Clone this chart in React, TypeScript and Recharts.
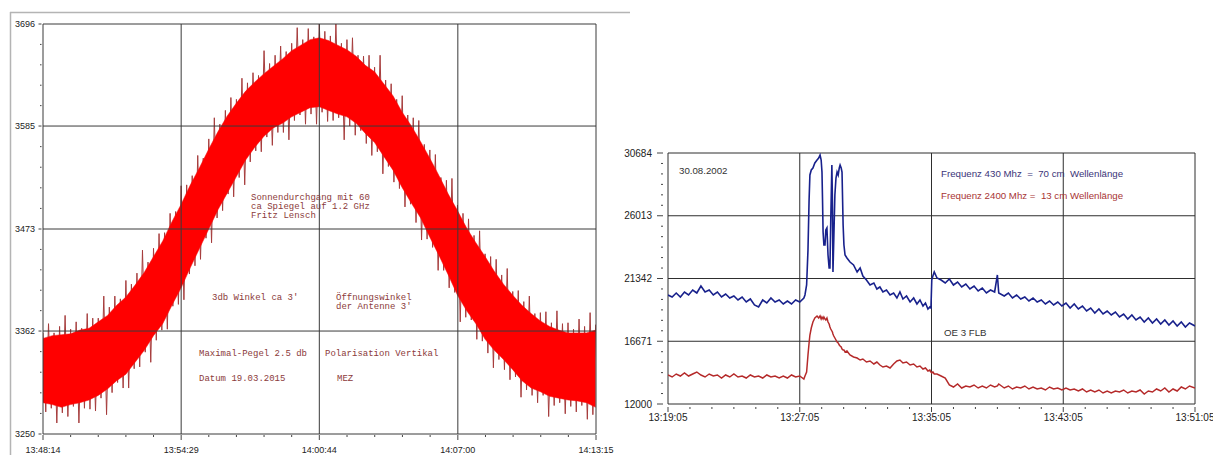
import { ComposedChart, LineChart, Area, Line, XAxis, YAxis, ReferenceLine } from 'recharts';

// Sonnendurchgang 19.03.2015 (seconds after 13:48:14)
// solid red core of the band
const sunTime = [
  0, 25, 50, 75, 100, 125, 150, 175, 200, 225, 250, 275, 300, 325, 350, 375, 400, 425, 450, 475,
  500, 525, 550, 575, 600, 625, 650, 675, 700, 725, 750, 775, 800, 825, 850, 875, 900, 925, 950, 975,
  1000, 1025, 1050, 1075, 1100, 1125, 1150, 1175, 1200, 1225, 1250, 1275, 1300, 1325, 1350, 1375, 1400, 1425, 1450, 1475,
  1500,
];
const sunHigh = [
  3354, 3357, 3358, 3359, 3363, 3365, 3372, 3379, 3390, 3399, 3412, 3426, 3443, 3460, 3481, 3500, 3521, 3540, 3560, 3579,
  3596, 3610, 3623, 3633, 3642, 3650, 3658, 3667, 3673, 3679, 3681, 3678, 3673, 3668, 3661, 3651, 3644, 3631, 3618, 3600,
  3585, 3568, 3550, 3531, 3511, 3493, 3474, 3458, 3443, 3427, 3413, 3401, 3390, 3381, 3373, 3367, 3363, 3360, 3360, 3360,
  3363,
];
const sunLow = [
  3284, 3282, 3279, 3282, 3284, 3287, 3292, 3299, 3308, 3315, 3328, 3341, 3357, 3370, 3390, 3409, 3431, 3452, 3473, 3494,
  3512, 3530, 3548, 3562, 3574, 3583, 3588, 3595, 3600, 3605, 3606, 3602, 3598, 3595, 3588, 3577, 3567, 3552, 3537, 3518,
  3501, 3485, 3464, 3444, 3423, 3401, 3384, 3370, 3353, 3341, 3331, 3320, 3308, 3300, 3296, 3291, 3289, 3287, 3286, 3284,
  3279,
];
// spike tips sticking out above and below the core
const sunUpTime = [
  0, 15, 30, 45, 60, 75, 90, 105, 120, 135, 150, 165, 180, 195, 210, 225, 240, 255, 270, 285,
  300, 315, 330, 345, 360, 375, 390, 405, 420, 435, 450, 465, 480, 495, 510, 525, 540, 555, 570, 585,
  600, 615, 630, 645, 660, 675, 690, 705, 720, 735, 750, 765, 780, 795, 810, 825, 840, 855, 870, 885,
  900, 915, 930, 945, 960, 975, 990, 1005, 1020, 1035, 1050, 1065, 1080, 1095, 1110, 1125, 1140, 1155, 1170, 1185,
  1200, 1215, 1230, 1245, 1260, 1275, 1290, 1305, 1320, 1335, 1350, 1365, 1380, 1395, 1410, 1425, 1440, 1455, 1470, 1485,
  1500,
];
const sunUpTip = [
  3360, 3370, 3360, 3367, 3379, 3364, 3372, 3365, 3381, 3376, 3376, 3400, 3388, 3400, 3397, 3417, 3413, 3425, 3450, 3437,
  3452, 3468, 3469, 3490, 3492, 3520, 3521, 3531, 3553, 3550, 3571, 3594, 3587, 3602, 3616, 3614, 3637, 3632, 3643, 3640,
  3667, 3653, 3662, 3672, 3666, 3675, 3692, 3679, 3691, 3682, 3696, 3688, 3683, 3696, 3675, 3679, 3681, 3662, 3661, 3662,
  3649, 3662, 3635, 3631, 3614, 3618, 3597, 3594, 3591, 3565, 3559, 3554, 3529, 3526, 3528, 3499, 3490, 3484, 3466, 3471,
  3446, 3443, 3440, 3423, 3430, 3405, 3406, 3394, 3400, 3381, 3382, 3383, 3371, 3384, 3370, 3371, 3364, 3375, 3367, 3382,
  3369,
];
const sunDownTime = [
  7.5, 22.5, 37.5, 52.5, 67.5, 82.5, 97.5, 112.5, 127.5, 142.5, 157.5, 172.5, 187.5, 202.5, 217.5, 232.5, 247.5, 262.5, 277.5, 292.5,
  307.5, 322.5, 337.5, 352.5, 367.5, 382.5, 397.5, 412.5, 427.5, 442.5, 457.5, 472.5, 487.5, 502.5, 517.5, 532.5, 547.5, 562.5, 577.5, 592.5,
  607.5, 622.5, 637.5, 652.5, 667.5, 682.5, 697.5, 712.5, 727.5, 742.5, 757.5, 772.5, 787.5, 802.5, 817.5, 832.5, 847.5, 862.5, 877.5, 892.5,
  907.5, 922.5, 937.5, 952.5, 967.5, 982.5, 997.5, 1012.5, 1027.5, 1042.5, 1057.5, 1072.5, 1087.5, 1102.5, 1117.5, 1132.5, 1147.5, 1162.5, 1177.5, 1192.5,
  1207.5, 1222.5, 1237.5, 1252.5, 1267.5, 1282.5, 1297.5, 1312.5, 1327.5, 1342.5, 1357.5, 1372.5, 1387.5, 1402.5, 1417.5, 1432.5, 1447.5, 1462.5, 1477.5, 1492.5,
];
const sunDownTip = [
  3274, 3278, 3262, 3273, 3269, 3280, 3262, 3278, 3277, 3275, 3289, 3271, 3295, 3306, 3300, 3300, 3321, 3323, 3339, 3328,
  3352, 3363, 3364, 3389, 3391, 3396, 3424, 3433, 3440, 3463, 3458, 3485, 3493, 3511, 3508, 3529, 3521, 3546, 3558, 3557,
  3573, 3564, 3578, 3578, 3570, 3591, 3597, 3587, 3598, 3587, 3600, 3590, 3591, 3594, 3570, 3585, 3575, 3580, 3566, 3553,
  3557, 3533, 3541, 3524, 3517, 3497, 3500, 3480, 3461, 3462, 3453, 3428, 3428, 3409, 3404, 3372, 3377, 3374, 3353, 3351,
  3338, 3322, 3331, 3320, 3309, 3312, 3290, 3298, 3292, 3284, 3292, 3269, 3281, 3284, 3272, 3280, 3274, 3281, 3266, 3271,
];
const sunTickValues = [0, 375, 750, 1126, 1501];
const sunTickLabels = ['13:48:14', '13:54:29', '14:00:44', '14:07:00', '14:13:15'];
const sunLevels = [3250, 3362, 3473, 3585, 3696];

// 30.08.2002 (seconds after 13:19:05)
const burstTime = [
  0, 15, 30, 45, 60, 75, 90, 105, 120, 135, 150, 165, 180, 195, 210, 225, 240, 255, 270, 285,
  300, 315, 330, 345, 360, 375, 390, 405, 420, 435, 450, 465, 480, 495,
  499, 505, 510, 514, 517, 522, 528, 535, 543, 549, 554, 558, 561, 563, 565, 568, 572, 575, 579, 583,
  587, 590, 593, 597, 599, 601, 604, 608, 612, 616, 620, 624, 627, 631, 634, 638, 641, 645, 652, 663,
  676, 689, 700, 710, 723, 736, 750, 761, 772, 783, 796, 809, 822, 834, 845, 856, 869, 882, 895, 907,
  918, 929, 938, 947, 954, 958, 961, 965, 970, 980,
  995, 1010, 1025, 1040, 1055, 1070, 1085, 1100, 1115, 1130, 1145, 1160, 1175, 1190, 1200, 1205,
  1225, 1240, 1255, 1270, 1285, 1300, 1315, 1330, 1345, 1360, 1375, 1390, 1405, 1420, 1435, 1450,
  1465, 1480, 1495, 1510, 1525, 1540, 1555, 1570, 1585, 1600, 1615, 1630, 1645, 1660, 1675, 1690,
  1705, 1720, 1735, 1750, 1765, 1780, 1795, 1810, 1825, 1840, 1855, 1870, 1885, 1900, 1920,
];
const burst430 = [
  20114, 19965, 20263, 19965, 20337, 20114, 20486, 20263, 20784, 20337, 20486, 20114, 20337, 19965, 20188, 19891, 20040, 19742, 19965, 19593,
  19816, 19370, 19221, 19742, 19518, 19891, 19593, 19742, 19444, 19667, 19444, 19742, 19593, 19891,
  20114, 20858, 23464, 27186, 29047, 29419, 29568, 29940, 30163, 30312, 30536, 30163, 29270, 27186, 24804, 23836, 23836, 24953, 25101, 23092,
  22124, 22124, 25697, 29791, 27186, 21826, 24208, 27558, 28823, 29270, 29047, 29568, 29791, 29568, 29270, 25325, 23836, 23092, 22868, 22571,
  22347, 21826, 22124, 21528, 21231, 20858, 21007, 20561, 20710, 20337, 20486, 20114, 20263, 19891, 20337, 19816, 20040, 19593, 19891, 19444,
  19742, 19295, 19518, 19072, 19221, 19146, 21231, 21528, 21826, 21380,
  21231, 21007, 21305, 20858, 21082, 20710, 20933, 20561, 20784, 20412, 20635, 20263, 20486, 20337, 21603, 20263,
  20040, 20263, 19891, 20114, 19816, 19965, 19667, 19891, 19593, 19742, 19444, 19667, 19370, 19593, 19295, 19518,
  19146, 19444, 19072, 19295, 18923, 19146, 18774, 19072, 18700, 18923, 18625, 18848, 18476, 18700, 18327, 18625,
  18253, 18476, 18104, 18402, 18030, 18327, 17955, 18253, 17881, 18179, 17806, 18104, 17732, 18030, 17806,
];
const burst2400 = [
  14159, 14010, 14233, 14084, 14308, 14084, 14233, 14382, 14159, 14010, 14233, 14084, 14159, 13935, 14159, 14010, 14233, 14010, 14084, 13935,
  14159, 14010, 14084, 13935, 14159, 14010, 14084, 13935, 14084, 13935, 14159, 14010, 14084, 13861,
  14084, 14382, 15648, 16541, 17136, 17657, 18104, 18402, 18551, 18402, 18551, 18327, 18476, 18402, 18327, 18476, 18327, 18253, 18402, 18104,
  17955, 17732, 17583, 17434, 17360, 17211, 17062, 16913, 16764, 16615, 16541, 16392, 16318, 16243, 16094, 16020, 16020, 15871, 15945, 15648,
  15499, 15424, 15275, 15350, 15126, 15201, 14978, 15126, 14903, 14754, 14829, 14680, 14978, 15201, 15275, 15052, 15126, 14903, 14978, 14754,
  14829, 14605, 14680, 14457, 14531, 14382, 14308, 14382, 14233, 14233,
  14084, 13935, 13414, 13265, 13489, 13191, 13340, 13265, 13414, 13191, 13340, 13191, 13414, 13265, 13340, 13489,
  13191, 13340, 13117, 13265, 13191, 13340, 13117, 13265, 13117, 13191, 13042, 13265, 13117, 13191, 13042, 13191,
  13042, 13117, 12968, 13117, 12893, 13042, 12893, 13042, 12819, 12968, 12819, 12968, 12893, 13042, 12819, 12968,
  12893, 13042, 12744, 12968, 12893, 13117, 12968, 13191, 12893, 13117, 12968, 13265, 13117, 13340, 13191,
];
const burstTickValues = [0, 480, 960, 1440, 1920];
const burstTickLabels = ['13:19:05', '13:27:05', '13:35:05', '13:43:05', '13:51:05'];
const burstLevels = [12000, 16671, 21342, 26013, 30684];

const sunRows = sunTime.map((t, i) => ({ t, range: [sunLow[i], sunHigh[i]] }));
// noisy trace: alternate upper and lower spike tips
const sunTrace: { t: number; v: number }[] = [];
sunUpTime.forEach((t, i) => {
  sunTrace.push({ t, v: sunUpTip[i] });
  if (i < sunDownTime.length) sunTrace.push({ t: sunDownTime[i], v: sunDownTip[i] });
});
const burstRows = burstTime.map((t, i) => ({ t, f430: burst430[i], f2400: burst2400[i] }));

// major ticks plus (n-1) minor ticks between each pair
const withMinor = (majors: number[], n: number) => {
  const out: number[] = [];
  for (let i = 0; i < majors.length - 1; i++) {
    for (let k = 0; k < n; k++) out.push(majors[i] + ((majors[i + 1] - majors[i]) * k) / n);
  }
  out.push(majors[majors.length - 1]);
  return out;
};

const majorIndex = (majors: number[], v: number) => majors.findIndex((m) => Math.abs(m - v) < 1e-6);

const axisFont = '"Liberation Sans", Arial, sans-serif';

const makeXTick = (majors: number[], labels: string[], o: { gap: number; major: number; minor: number; dy: number; size: number }) =>
  (props: any) => {
    const { x, y, payload } = props;
    const idx = majorIndex(majors, payload.value);
    const len = idx >= 0 ? o.major : o.minor;
    return (
      <g>
        <line x1={x} x2={x} y1={y + o.gap} y2={y + o.gap + len} stroke="#444" strokeWidth={1} />
        {idx >= 0 && (
          <text x={x} y={y + o.dy} textAnchor="middle" fontSize={o.size} fontFamily={axisFont} fill="#222">
            {labels[idx]}
          </text>
        )}
      </g>
    );
  };

const makeYTick = (majors: number[], o: { gap: number; major: number; minor: number; dx: number; size: number }) =>
  (props: any) => {
    const { x, y, payload } = props;
    const idx = majorIndex(majors, payload.value);
    const len = idx >= 0 ? o.major : o.minor;
    return (
      <g>
        <line x1={x - o.gap - len} x2={x - o.gap} y1={y} y2={y} stroke="#444" strokeWidth={1} />
        {idx >= 0 && (
          <text x={x - o.dx} y={y} dy="0.35em" textAnchor="end" fontSize={o.size} fontFamily={axisFont} fill="#222">
            {majors[idx]}
          </text>
        )}
      </g>
    );
  };

const SunXTick = makeXTick(sunTickValues, sunTickLabels, { gap: 1, major: 5, minor: 2, dy: 19, size: 9 });
const SunYTick = makeYTick(sunLevels, { gap: 1.5, major: 3, minor: 1.5, dx: 8, size: 9 });
const BurstXTick = makeXTick(burstTickValues, burstTickLabels, { gap: 3, major: 5, minor: 2, dy: 17, size: 10 });
const BurstYTick = makeYTick(burstLevels, { gap: 5, major: 6, minor: 2, dx: 16, size: 10 });

const mono = '"Liberation Mono", "Courier New", monospace';
const noteRed = '#8b3a3a';

export default function App() {
  return (
    <div style={{ position: 'absolute', left: 0, top: 0, width: 1213, height: 455, background: '#fff', overflow: 'hidden' }}>
      <div style={{ position: 'absolute', left: 0, top: 0 }}>
        <ComposedChart width={630} height={455} data={sunRows} margin={{ top: 24, right: 34, bottom: 0, left: 0 }}>
          <XAxis dataKey="t" type="number" domain={[0, 1501]} ticks={withMinor(sunTickValues, 5)} interval={0}
            axisLine={false} tickLine={false} tickSize={0} tickMargin={0} height={21} tick={SunXTick} allowDataOverflow />
          <YAxis type="number" domain={[3250, 3696]} ticks={withMinor(sunLevels, 5)} interval={0}
            axisLine={false} tickLine={false} tickSize={0} tickMargin={0} width={43} tick={SunYTick} allowDataOverflow />
          {sunTickValues.map((v) => (
            <ReferenceLine key={'sx' + v} x={v} stroke="#3a3a3a" strokeWidth={1} />
          ))}
          {sunLevels.map((v) => (
            <ReferenceLine key={'sy' + v} y={v} stroke="#3a3a3a" strokeWidth={1} />
          ))}
          {/* spiky trace drawn first, the solid core covers its inner part */}
          <Area data={sunTrace} dataKey="v" type="linear" fill="none" stroke="#a63c3c" strokeWidth={1}
            dot={false} activeDot={false} isAnimationActive={false} />
          <Area dataKey="range" type="linear" fill="#ff0000" fillOpacity={1} stroke="#f01010" strokeWidth={0.5}
            dot={false} activeDot={false} isAnimationActive={false} />
        </ComposedChart>
      </div>

      <div style={{ position: 'absolute', left: 600, top: 140 }}>
        <LineChart width={613} height={290} data={burstRows} margin={{ top: 13, right: 18, bottom: 0, left: 0 }}>
          <XAxis dataKey="t" type="number" domain={[0, 1920]} ticks={withMinor(burstTickValues, 6)} interval={0}
            axisLine={false} tickLine={false} tickSize={0} tickMargin={0} height={26} tick={BurstXTick} allowDataOverflow />
          <YAxis type="number" domain={[12000, 30684]} ticks={withMinor(burstLevels, 6)} interval={0}
            axisLine={false} tickLine={false} tickSize={0} tickMargin={0} width={68} tick={BurstYTick} allowDataOverflow />
          {burstTickValues.map((v) => (
            <ReferenceLine key={'bx' + v} x={v} stroke="#2e2e2e" strokeWidth={1} />
          ))}
          {burstLevels.map((v) => (
            <ReferenceLine key={'by' + v} y={v} stroke="#2e2e2e" strokeWidth={1} />
          ))}
          <Line dataKey="f430" type="linear" stroke="#18218c" strokeWidth={1.6} dot={false} activeDot={false} isAnimationActive={false} />
          <Line dataKey="f2400" type="linear" stroke="#b52a2a" strokeWidth={1.5} dot={false} activeDot={false} isAnimationActive={false} />
        </LineChart>
      </div>

      <svg width={1213} height={455} style={{ position: 'absolute', left: 0, top: 0, pointerEvents: 'none' }}>
        <line x1={10} x2={630} y1={12.5} y2={12.5} stroke="#b4b4b4" strokeWidth={1.5} />
        <line x1={10.5} x2={10.5} y1={12} y2={455} stroke="#b4b4b4" strokeWidth={1.5} />
        <g fontFamily={mono} fontSize={9} fill={noteRed}>
          <text x={251} y={200}>Sonnendurchgang mit 60</text>
          <text x={251} y={209}>ca Spiegel auf 1.2 GHz</text>
          <text x={251} y={218}>Fritz Lensch</text>
          <text x={212} y={300}>3db Winkel ca 3'</text>
          <text x={336} y={300}>Öffnungswinkel</text>
          <text x={336} y={309}>der Antenne 3'</text>
          <text x={199} y={356}>Maximal-Pegel 2.5 db</text>
          <text x={325} y={356}>Polarisation Vertikal</text>
          <text x={199} y={381}>Datum 19.03.2015</text>
          <text x={337} y={381}>MEZ</text>
        </g>
        <g fontFamily={axisFont} fontSize={9.7}>
          <text x={679} y={174} fill="#333">30.08.2002</text>
          <text x={941} y={177} fill="#3b3478" xmlSpace="preserve">Frequenz 430 Mhz  =  70 cm  Wellenlänge</text>
          <text x={941} y={199} fill="#a83434" xmlSpace="preserve">Frequenz 2400 Mhz =  13 cm Wellenlänge</text>
          <text x={944} y={336} fill="#333">OE 3 FLB</text>
        </g>
      </svg>
    </div>
  );
}
